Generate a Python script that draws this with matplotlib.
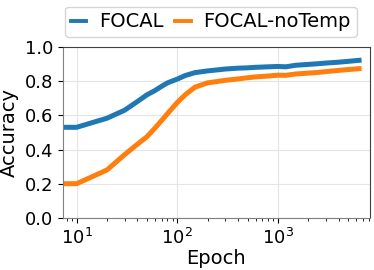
import numpy as np
import matplotlib
matplotlib.use('Agg')
import matplotlib.pyplot as plt

epochs = [7, 10, 20, 30, 40, 50, 60, 70, 80, 100, 120, 150, 200, 250, 300,
          400, 500, 600, 800, 1000, 1200, 1500, 2000, 2500, 3000, 4000,
          5000, 6400]
focal = [0.53, 0.53, 0.583, 0.63, 0.68, 0.72, 0.745, 0.77, 0.79, 0.812,
         0.833, 0.85, 0.86, 0.866, 0.871, 0.876, 0.878, 0.881, 0.884, 0.886,
         0.884, 0.893, 0.898, 0.902, 0.906, 0.911, 0.916, 0.922]
focal_notemp = [0.20, 0.20, 0.28, 0.37, 0.43, 0.475, 0.525, 0.57, 0.61, 0.675,
                0.72, 0.765, 0.79, 0.798, 0.805, 0.813, 0.82, 0.825, 0.83,
                0.835, 0.834, 0.842, 0.847, 0.851, 0.856, 0.863, 0.868, 0.873]

plt.rcParams['font.size'] = 13

fig = plt.figure(figsize=(3.74, 2.7), dpi=100)
ax = fig.add_axes([0.168, 0.193, 0.821, 0.633])

ax.plot(epochs, focal, color='tab:blue', lw=3.6, label='FOCAL')
ax.plot(epochs, focal_notemp, color='tab:orange', lw=3.6, label='FOCAL-noTemp')

ax.set_xscale('log')
ax.set_xlim(7.3, 8200)
ax.set_ylim(0, 1)
ax.set_yticks([0, 0.2, 0.4, 0.6, 0.8, 1.0])
ax.grid(True, color='#e5e5e5', lw=0.8)
ax.set_xlabel('Epoch', fontsize=14, labelpad=1)
ax.set_ylabel('Accuracy', fontsize=14)
for s in ['left', 'bottom']:
    ax.spines[s].set_color('#808080')
for s in ['top', 'right']:
    ax.spines[s].set_color('#404040')

leg = ax.legend(loc='lower center', bbox_to_anchor=(0.482, 1.0), ncol=2,
                fontsize=14, handlelength=0.8, handletextpad=0.65,
                columnspacing=0.6, borderpad=0.3)
for h in leg.get_lines():
    h.set_linewidth(2.8)

fig.savefig('out.png', dpi=100)
